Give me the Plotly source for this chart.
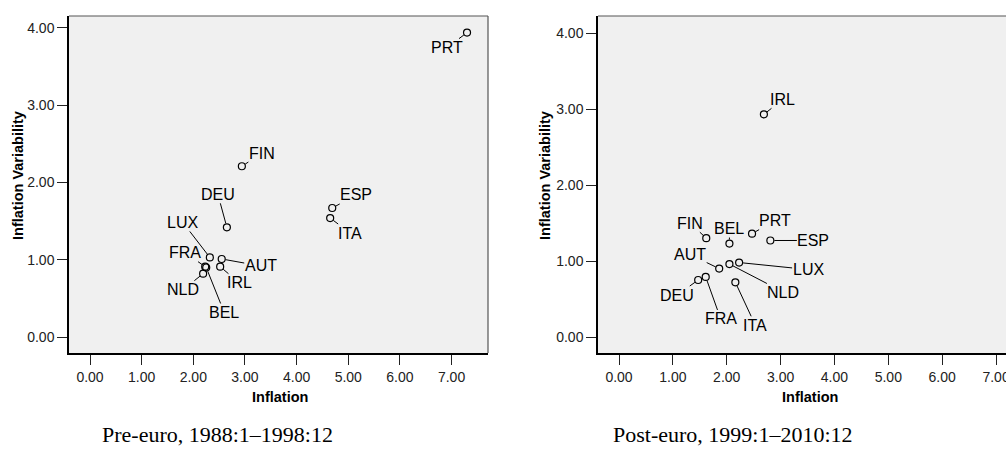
import plotly.graph_objects as go

# ---------------- data ----------------
countries = ["AUT", "BEL", "DEU", "ESP", "FIN", "FRA", "IRL", "ITA", "LUX", "NLD", "PRT"]

inflation_pre = [2.55, 2.25, 2.65, 4.69, 2.94, 2.23, 2.52, 4.65, 2.32, 2.19, 7.30]
variability_pre = [1.01, 0.90, 1.42, 1.67, 2.21, 0.91, 0.91, 1.54, 1.03, 0.82, 3.94]

inflation_post = [1.86, 2.05, 1.47, 2.81, 1.62, 1.61, 2.69, 2.16, 2.23, 2.05, 2.47]
variability_post = [0.90, 1.23, 0.75, 1.27, 1.30, 0.79, 2.93, 0.72, 0.98, 0.96, 1.36]

x_tick_values = [0, 1, 2, 3, 4, 5, 6, 7]
x_tick_labels = ["0.00", "1.00", "2.00", "3.00", "4.00", "5.00", "6.00", "7.00"]
y_tick_values = [0, 1, 2, 3, 4]
y_tick_labels = ["0.00", "1.00", "2.00", "3.00", "4.00"]

x_title = "Inflation"
y_title = "Inflation Variability"
caption_pre = "Pre-euro, 1988:1–1998:12"
caption_post = "Post-euro, 1999:1–2010:12"

# ---------------- layout / style (pixel label offsets) ----------------
offsets_pre = {
    "AUT": (39, 7), "BEL": (18, 45), "DEU": (-9, -33), "ESP": (24, -13),
    "FIN": (20, -13), "FRA": (-20, -14), "IRL": (19, 16), "ITA": (20, 15),
    "LUX": (-27, -35), "NLD": (-20, 16), "PRT": (-20, 15),
}
offsets_post = {
    "AUT": (-29, -14), "BEL": (0, -15), "DEU": (-21, 15), "ESP": (43, 0),
    "FIN": (-16, -15), "FRA": (15, 42), "IRL": (19, -15), "ITA": (20, 43),
    "LUX": (69, 7), "NLD": (54, 28), "PRT": (23, -13),
}

W, H = 1006, 451
SANS = "Liberation Sans, Arial, Helvetica, sans-serif"
SERIF = "Palatino Linotype, Book Antiqua, Palatino, Liberation Serif, serif"
PLOT_BG = "#f0f0f0"


def px_x(p):
    return p / W


def px_y(p):
    return 1 - p / H


fig = go.Figure()

marker_style = dict(symbol="circle-open", size=7, color="black", line=dict(width=1.2, color="black"))

fig.add_trace(go.Scatter(x=inflation_pre, y=variability_pre, mode="markers",
                         marker=marker_style, xaxis="x", yaxis="y",
                         text=countries, hoverinfo="text+x+y", showlegend=False))
fig.add_trace(go.Scatter(x=inflation_post, y=variability_post, mode="markers",
                         marker=marker_style, xaxis="x2", yaxis="y2",
                         text=countries, hoverinfo="text+x+y", showlegend=False))

ydom = [px_y(353), px_y(16)]

axis_common = dict(
    showgrid=False, zeroline=False, showline=True, linecolor="black", linewidth=1.5,
    ticks="outside", ticklen=10, tickwidth=1.2, tickcolor="#222",
    tickfont=dict(family=SANS, size=14, color="#222"),
    ticklabeloverflow="allow",
    fixedrange=True, automargin=False,
)

fig.update_layout(
    width=W, height=H,
    margin=dict(l=0, r=0, t=0, b=0),
    paper_bgcolor="white", plot_bgcolor=PLOT_BG,
    showlegend=False,
    xaxis=dict(domain=[px_x(69), px_x(488)], range=[-0.407, 7.706], anchor="y",
               tickvals=x_tick_values, ticktext=x_tick_labels, **axis_common),
    yaxis=dict(domain=ydom, range=[-0.207, 4.155], anchor="x",
               tickvals=y_tick_values, ticktext=y_tick_labels, **axis_common),
    xaxis2=dict(domain=[px_x(598), 1.0], range=[-0.39, 7.185], anchor="y2",
                tickvals=x_tick_values, ticktext=x_tick_labels, **axis_common),
    yaxis2=dict(domain=ydom, range=[-0.2105, 4.224], anchor="x2",
                tickvals=y_tick_values, ticktext=y_tick_labels, **axis_common),
)

# top / right frame lines (gray)
shapes = [
    dict(type="line", xref="x domain", yref="y domain", x0=0, x1=1, y0=1, y1=1,
         line=dict(color="#555", width=1.2)),
    dict(type="line", xref="x domain", yref="y domain", x0=1, x1=1, y0=0, y1=1,
         line=dict(color="#555", width=1.2)),
    dict(type="line", xref="x2 domain", yref="y2 domain", x0=0, x1=1, y0=1, y1=1,
         line=dict(color="#555", width=1.2)),
]
fig.update_layout(shapes=shapes)

annotations = []
for xs, ys, offs, xr, yr in [
    (inflation_pre, variability_pre, offsets_pre, "x", "y"),
    (inflation_post, variability_post, offsets_post, "x2", "y2"),
]:
    for c, xv, yv in zip(countries, xs, ys):
        ax, ay = offs[c]
        annotations.append(dict(
            x=xv, y=yv, xref=xr, yref=yr, text=c,
            showarrow=True, arrowhead=0, arrowwidth=1, arrowcolor="black",
            ax=ax, ay=ay, standoff=4, borderpad=0,
            font=dict(family=SANS, size=16, color="black"),
        ))

# axis titles
for cx in (279.7, 810):
    annotations.append(dict(x=px_x(cx), y=px_y(397), xref="paper", yref="paper",
                            text="<b>%s</b>" % x_title, showarrow=False,
                            xanchor="center", yanchor="middle",
                            font=dict(family=SANS, size=14.5, color="black")))
for cx in (18, 545):
    annotations.append(dict(x=px_x(cx), y=px_y(176), xref="paper", yref="paper",
                            text="<b>%s</b>" % y_title, showarrow=False, textangle=-90,
                            xanchor="center", yanchor="middle",
                            font=dict(family=SANS, size=14.5, color="black")))

# captions
annotations.append(dict(x=px_x(217), y=px_y(434), xref="paper", yref="paper",
                        text=caption_pre, showarrow=False, xanchor="center", yanchor="middle",
                        font=dict(family=SERIF, size=22, color="black")))
annotations.append(dict(x=px_x(733), y=px_y(434), xref="paper", yref="paper",
                        text=caption_post, showarrow=False, xanchor="center", yanchor="middle",
                        font=dict(family=SERIF, size=22, color="black")))

fig.update_layout(annotations=annotations)

fig.write_html("out.html", config={"displayModeBar": False},
               post_script="document.body.style.margin='0';document.body.style.overflow='hidden';")
